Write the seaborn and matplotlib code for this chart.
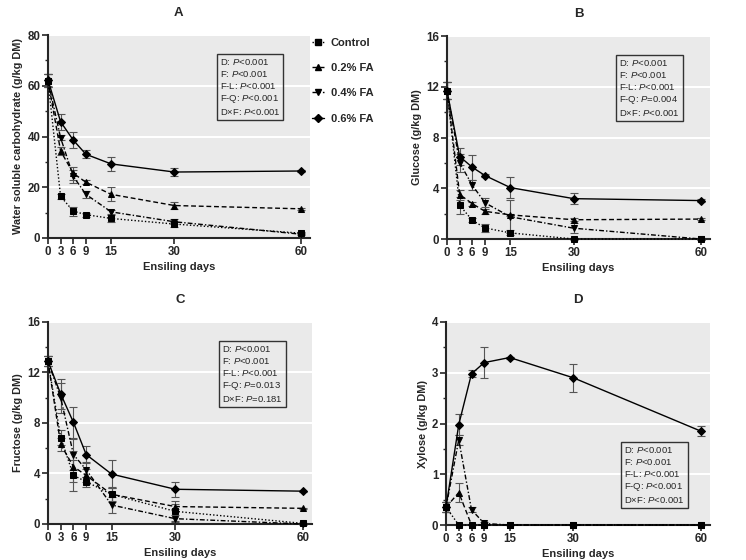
import numpy as np, pandas as pd
import matplotlib; matplotlib.use("Agg")
import matplotlib.pyplot as plt
from matplotlib.lines import Line2D
from matplotlib.ticker import AutoMinorLocator
import seaborn as sns

DAYS = [0, 3, 6, 9, 15, 30, 60]
GROUPS = ['Control', '0.2% FA', '0.4% FA', '0.6% FA']

# panel A: water soluble carbohydrate
wsc = {'Control': [62.0, 16.4, 10.6, 9.2, 7.7, 5.5, 1.9],
       '0.2% FA': [62.0, 34.3, 25.5, 22.0, 17.2, 12.8, 11.5],
       '0.4% FA': [62.0, 39.5, 24.3, 17.2, 10.3, 6.4, 1.5],
       '0.6% FA': [62.3, 45.8, 38.6, 33.0, 29.2, 26.0, 26.4]}
wsc_err = {'Control': [2.5, 1.0, 1.8, 0.8, 1.5, 1.0, 0.5],
           '0.2% FA': [2.5, 1.5, 2.5, 0.8, 2.8, 1.2, 0.5],
           '0.4% FA': [2.5, 1.0, 2.5, 1.5, 0.8, 1.0, 0.3],
           '0.6% FA': [2.5, 3.2, 3.2, 1.5, 2.8, 1.5, 0.5]}
# panel B: glucose
glu = {'Control': [11.7, 2.65, 1.47, 0.87, 0.48, 0.0, 0.0],
       '0.2% FA': [11.7, 3.5, 2.78, 2.18, 1.9, 1.52, 1.57],
       '0.4% FA': [11.7, 6.0, 4.23, 2.85, 1.75, 0.85, 0.0],
       '0.6% FA': [11.7, 6.5, 5.65, 5.0, 4.05, 3.18, 3.03]}
glu_err = {'Control': [0.7, 0.65, 0.15, 0.3, 0.2, 0.1, 0.05],
           '0.2% FA': [0.7, 0.4, 0.15, 0.2, 0.1, 0.1, 0.05],
           '0.4% FA': [0.7, 0.7, 0.4, 0.35, 1.3, 0.4, 0.05],
           '0.6% FA': [0.7, 0.7, 1.0, 0.1, 0.8, 0.45, 0.1]}
# panel C: fructose
fru = {'Control': [12.9, 6.85, 3.85, 3.35, 2.35, 1.0, 0.05],
       '0.2% FA': [12.9, 6.3, 4.55, 3.85, 2.35, 1.38, 1.24],
       '0.4% FA': [12.9, 10.0, 5.5, 4.3, 1.5, 0.42, 0.0],
       '0.6% FA': [12.9, 10.3, 8.05, 5.5, 3.95, 2.75, 2.6]}
fru_err = {'Control': [0.4, 0.6, 1.2, 0.4, 0.5, 0.8, 0.05],
           '0.2% FA': [0.4, 0.5, 1.2, 0.5, 0.6, 0.2, 0.05],
           '0.4% FA': [0.4, 1.2, 1.2, 0.6, 0.6, 0.3, 0.05],
           '0.6% FA': [0.4, 1.2, 1.2, 0.7, 1.1, 0.6, 0.05]}
# panel D: xylose
xyl = {'Control': [0.35, 0.0, 0.0, 0.0, 0.0, 0.0, 0.0],
       '0.2% FA': [0.35, 0.64, 0.0, 0.0, 0.0, 0.0, 0.0],
       '0.4% FA': [0.35, 1.68, 0.3, 0.03, 0.0, 0.0, 0.0],
       '0.6% FA': [0.35, 1.98, 2.98, 3.2, 3.3, 2.9, 1.85]}
xyl_err = {'Control': [0.1, 0.0, 0.0, 0.0, 0.0, 0.0, 0.0],
           '0.2% FA': [0.1, 0.18, 0.0, 0.0, 0.0, 0.0, 0.0],
           '0.4% FA': [0.1, 0.1, 0.05, 0.02, 0.0, 0.0, 0.0],
           '0.6% FA': [0.1, 0.2, 0.07, 0.3, 0.02, 0.27, 0.1]}

STATS_A = ['D: $\\it{P}$<0.001', 'F: $\\it{P}$<0.001', 'F-L: $\\it{P}$<0.001', 'F-Q: $\\it{P}$<0.001', 'D×F: $\\it{P}$<0.001']
STATS_B = ['D: $\\it{P}$<0.001', 'F: $\\it{P}$<0.001', 'F-L: $\\it{P}$<0.001', 'F-Q: $\\it{P}$=0.004', 'D×F: $\\it{P}$<0.001']
STATS_C = ['D: $\\it{P}$<0.001', 'F: $\\it{P}$<0.001', 'F-L: $\\it{P}$<0.001', 'F-Q: $\\it{P}$=0.013', 'D×F: $\\it{P}$=0.181']
STATS_D = ['D: $\\it{P}$<0.001', 'F: $\\it{P}$<0.001', 'F-L: $\\it{P}$<0.001', 'F-Q: $\\it{P}$<0.001', 'D×F: $\\it{P}$<0.001']

PANELS = [('A', wsc, wsc_err, 'Water soluble carbohydrate (g/kg DM)', 80, 20, STATS_A,
           [0.0643, 0.575, 0.3512, 0.3625], (0.656, 0.892)),
          ('B', glu, glu_err, 'Glucose (g/kg DM)', 16, 4, STATS_B,
           [0.5992, 0.5732, 0.3525, 0.3625], (0.654, 0.892)),
          ('C', fru, fru_err, 'Fructose (g/kg DM)', 16, 4, STATS_C,
           [0.0643, 0.0643, 0.354, 0.3607], (0.659, 0.891)),
          ('D', xyl, xyl_err, 'Xylose (g/kg DM)', 4, 1, STATS_D,
           [0.5979, 0.0625, 0.354, 0.3625], (0.674, 0.394))]

MARKERS = {'Control': 's', '0.2% FA': '^', '0.4% FA': 'v', '0.6% FA': 'D'}
DASHES = {'Control': (1, 1.5), '0.2% FA': (3.5, 2), '0.4% FA': (3.5, 1.5, 1, 1.5), '0.6% FA': ''}
MSIZE = {'Control': 4.2, '0.2% FA': 4.2, '0.4% FA': 4.2, '0.6% FA': 3.6}

sns.set_style("ticks")
plt.rcParams['font.family'] = ['Liberation Sans', 'DejaVu Sans']
plt.rcParams['mathtext.fontset'] = 'custom'
plt.rcParams['mathtext.it'] = 'Liberation Sans:italic'
plt.rcParams['mathtext.rm'] = 'Liberation Sans'

fig = plt.figure(figsize=(7.46, 5.60), dpi=100)
for title, vals, errs, ylab, ymax, ystep, stats, pos, tpos in PANELS:
    ax = fig.add_axes(pos)
    ax.set_facecolor('#eaeaea')
    df = pd.DataFrame([{'day': d, 'value': v, 'group': g}
                       for g in GROUPS for d, v in zip(DAYS, vals[g])])
    sns.lineplot(data=df, x='day', y='value', hue='group', style='group', ax=ax,
                 palette={g: 'black' for g in GROUPS}, markers=MARKERS, dashes=DASHES,
                 linewidth=1.0, markersize=4, markeredgecolor='black', legend=False,
                 zorder=3, clip_on=False)
    for ln, g in zip(ax.lines[:4], GROUPS):
        ln.set_markersize(MSIZE[g])
    for g in GROUPS:
        ax.errorbar(DAYS, vals[g], yerr=errs[g], fmt='none', ecolor='#555555',
                    elinewidth=0.8, capsize=3, capthick=0.8, zorder=2, clip_on=False)
    ax.set_xlim(0, 62.2)
    ax.set_ylim(0, ymax)
    ax.set_xticks(DAYS)
    ax.set_yticks(np.arange(0, ymax + ystep / 2, ystep))
    ax.yaxis.set_minor_locator(AutoMinorLocator(2))
    ax.grid(axis='y', color='white', lw=1.5)
    ax.set_axisbelow(True)
    for s in ['left', 'bottom']:
        ax.spines[s].set_linewidth(1.5)
    sns.despine(ax=ax)
    ax.tick_params(which='major', length=4, width=1.2, labelsize=8.3, pad=1.5)
    ax.tick_params(which='minor', length=2.5, width=1)
    for lbl in ax.get_xticklabels() + ax.get_yticklabels():
        lbl.set_fontweight('bold')
    ax.set_xlabel('Ensiling days', fontsize=8, fontweight='bold', labelpad=3)
    ax.set_ylabel(ylab, fontsize=7.8, fontweight='bold', labelpad=3)
    ax.set_title(title, fontsize=9.5, fontweight='bold', pad=14)
    ax.text(tpos[0], tpos[1], '\n'.join(stats), transform=ax.transAxes, fontsize=6.8,
            va='top', ha='left', linespacing=1.25, zorder=5,
            bbox=dict(boxstyle='square,pad=0.3', fc='none', ec='#333333', lw=1))

handles = [Line2D([], [], color='black', lw=1.0, marker=MARKERS[g], markersize=MSIZE[g],
                  linestyle='-' if not DASHES[g] else '--') for g in GROUPS]
for h, g in zip(handles, GROUPS):
    if DASHES[g]:
        h.set_dashes(DASHES[g])
fig.legend(handles, GROUPS, loc='upper left', bbox_to_anchor=(0.418, 0.933),
           frameon=False, prop={'weight': 'bold', 'size': 8}, handlelength=1.1,
           handletextpad=0.6, labelspacing=1.38, borderpad=0, borderaxespad=0)
fig.savefig('out.png', dpi=100)
